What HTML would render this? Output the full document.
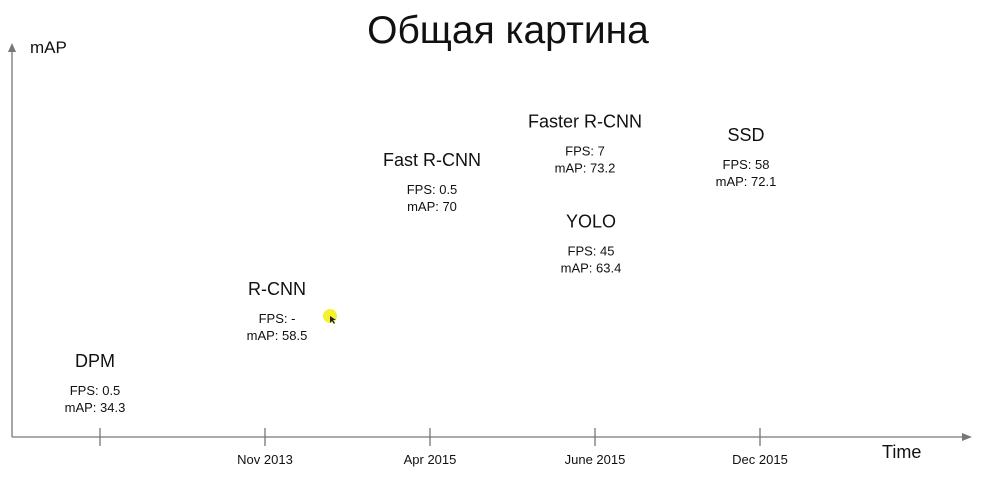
<!DOCTYPE html>
<html><head><meta charset="utf-8"><style>
html,body{margin:0;padding:0;background:#fff;}
svg{display:block;font-family:"Liberation Sans","DejaVu Sans",sans-serif;}
</style></head><body>
<svg id="chart" width="985" height="480">
<text x="508" y="43" font-size="39" text-anchor="middle" fill="#111">Общая картина</text>
<line x1="12" y1="437" x2="12" y2="48" stroke="#777" stroke-width="1.3"/>
<path d="M8,52 L12,43 L16,52 Z" fill="#777"/>
<line x1="12" y1="437" x2="966" y2="437" stroke="#777" stroke-width="1.3"/>
<path d="M962,433 L972,437 L962,441 Z" fill="#777"/>
<text x="30" y="53" font-size="17" fill="#111">mAP</text>
<text x="882" y="458" font-size="18" fill="#111">Time</text>
<g id="ticks"></g>
<g id="marks"></g>
<circle cx="330" cy="316" r="7" fill="#f2ef1a" opacity="0.9"/>
<path d="M330,316 L330,323 L332,321 L334,324 L335,323 L333,320 L336,320 Z" fill="#222"/>
</svg>
<script>
const tickLabels = ["", "Nov 2013", "Apr 2015", "June 2015", "Dec 2015"];
const models = ["DPM", "R-CNN", "Fast R-CNN", "Faster R-CNN", "YOLO", "SSD"];
const dateIndex = [0, 1, 2, 3, 3, 4];
const fps = ["0.5", "-", "0.5", "7", "45", "58"];
const mAP = [34.3, 58.5, 70, 73.2, 63.4, 72.1];
const xOffset = [-5, 12, 2, -10, -4, -14];

const NS = "http://www.w3.org/2000/svg";
function xScale(i){ return 100 + i * 165; }
const yDom = [34, 58, 63, 70, 73.5];
const yRan = [362, 296, 225, 160, 118];
function yScale(v){
  for (let k = 0; k < yDom.length - 1; k++) {
    if (v <= yDom[k+1] || k === yDom.length - 2) {
      const t = (v - yDom[k]) / (yDom[k+1] - yDom[k]);
      return yRan[k] + t * (yRan[k+1] - yRan[k]);
    }
  }
}
function mk(tag, attrs, txt){
  const e = document.createElementNS(NS, tag);
  for (const k in attrs) e.setAttribute(k, attrs[k]);
  if (txt !== undefined) e.textContent = txt;
  return e;
}
const tg = document.getElementById("ticks");
tickLabels.forEach((lab, i) => {
  const x = xScale(i);
  const l = mk("line", {x1:x, x2:x, y1:428, y2:446, stroke:"#777", "stroke-width":1.3});
  
  
  tg.appendChild(l);
  if (lab) {
    const t = mk("text", {x:x, y:464, "font-size":13, "text-anchor":"middle", fill:"#111"}, lab);
    
    
    tg.appendChild(t);
  }
});
const mg = document.getElementById("marks");
models.forEach((m, i) => {
  const x = xScale(dateIndex[i]) + xOffset[i];
  const y = yScale(mAP[i]);
  const g = mk("g", {});
  
  
  const n = mk("text", {x:x, y:y + 6, "font-size":18, "text-anchor":"middle", fill:"#111"}, m);
  
  
  const f = mk("text", {x:x, y:y + 34, "font-size":13, "text-anchor":"middle", fill:"#111"}, "FPS: " + fps[i]);
  
  
  const a = mk("text", {x:x, y:y + 51, "font-size":13, "text-anchor":"middle", fill:"#111"}, "mAP: " + mAP[i]);
  
  
  g.appendChild(n); g.appendChild(f); g.appendChild(a);
  mg.appendChild(g);
});
</script>
</body></html>
